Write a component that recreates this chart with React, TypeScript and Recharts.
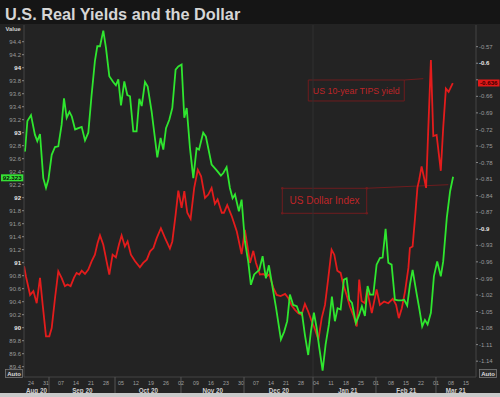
import React from 'react';
import { LineChart, Line, XAxis, YAxis, ReferenceLine, ReferenceArea, ReferenceDot } from 'recharts';

// x values are business-day offsets from Mon 24 Aug 2020
const dollarX = [-2.3, -2.0, -1.2, 0, 1.3, 2.1, 3.0, 4.1, 5.0, 5.8, 6.9, 8.0, 9.1, 10.2, 11.0, 11.9, 12.8, 13.6, 14.7, 15.8, 16.9, 18.0, 19.1, 20.2, 21.3, 22.1, 23.0, 24.1, 25.0, 26.1, 27.4, 28.3, 29.1, 30.0, 31.1, 32.1, 33.0, 34.1, 35.2, 36.1, 36.9, 38.0, 38.9, 40.2, 41.3, 42.1, 43.2, 44.1, 45.0, 46.1, 47.1, 48.2, 49.1, 50.2, 51.1, 51.9, 53.0, 54.1, 55.2, 56.0, 57.4, 58.3, 60.2, 61.9, 63.3, 64.1, 65.2, 66.3, 67.2, 68.0, 69.3, 70.2, 71.3, 72.4, 73.3, 74.4, 76.1, 77.2, 78.3, 79.3, 80.2, 81.7, 83.3, 84.4, 85.4, 86.3, 87.4, 88.6, 89.4, 90.3, 91.3, 92.4, 93.3, 94.3, 95.2, 96.1, 97.2, 98.2, 99.3, 100.3, 101.3, 102.2, 103.2, 104.3, 105.2, 106.1, 107.0, 108.3, 109.4, 110.3, 111.3, 112.2, 113.0, 114.1, 115.2, 116.3, 117.2, 118.2, 119.1, 120.2, 121.3, 122.4, 123.6, 124.4, 125.4, 126.3, 127.2, 128.6, 129.4, 130.4, 131.3, 132.2, 133.3, 134.3, 135.4, 136.6, 137.4, 138.6, 139.7, 140.7];
const dollarValues = [92.76, 92.71, 93.18, 93.27, 92.97, 92.87, 92.98, 92.30, 92.15, 92.28, 92.66, 92.78, 92.79, 93.12, 93.53, 93.23, 93.32, 93.25, 93.05, 93.07, 93.09, 92.88, 93.00, 93.58, 94.10, 94.33, 94.33, 94.57, 94.30, 93.87, 93.78, 93.73, 93.82, 93.42, 93.79, 93.58, 93.56, 93.02, 93.02, 93.52, 93.41, 93.78, 93.71, 93.33, 92.92, 92.62, 92.92, 92.74, 93.07, 93.20, 93.38, 93.97, 94.02, 94.05, 93.23, 93.38, 92.76, 92.30, 92.76, 92.74, 93.00, 92.94, 92.51, 92.42, 92.34, 92.38, 92.47, 92.15, 91.99, 92.05, 91.79, 91.97, 91.33, 91.02, 90.66, 90.82, 90.89, 91.10, 90.76, 90.96, 90.71, 90.30, 89.82, 89.94, 90.10, 90.51, 90.35, 90.33, 90.23, 90.23, 89.89, 89.58, 89.94, 90.23, 90.00, 89.69, 89.34, 89.74, 90.05, 90.48, 90.10, 90.30, 90.28, 90.74, 90.76, 90.43, 90.38, 90.07, 90.20, 90.33, 90.18, 90.64, 90.51, 90.51, 90.97, 91.07, 91.08, 91.52, 91.00, 90.97, 90.43, 90.42, 90.42, 90.43, 90.34, 90.66, 90.89, 90.51, 90.30, 90.02, 90.12, 90.05, 90.23, 90.79, 91.02, 90.79, 91.02, 91.69, 92.10, 92.323];

const tipsX = [-2.3, -1.7, -0.3, 0.8, 1.9, 3.0, 3.9, 5.0, 6.1, 6.9, 8.0, 9.1, 10.2, 11.3, 12.2, 13.2, 14.3, 15.2, 16.1, 16.9, 18.0, 19.1, 20.2, 21.3, 22.2, 23.0, 24.1, 25.2, 26.1, 27.2, 28.3, 29.3, 30.2, 31.3, 32.2, 33.3, 34.7, 36.3, 37.4, 38.6, 39.7, 40.8, 41.9, 43.3, 44.7, 46.3, 47.1, 48.2, 49.1, 50.2, 51.1, 52.1, 53.2, 54.4, 55.6, 56.7, 58.0, 59.1, 60.2, 61.3, 62.2, 63.6, 64.3, 65.4, 66.9, 68.6, 70.2, 71.3, 73.0, 74.1, 75.0, 76.3, 77.4, 78.6, 79.4, 80.8, 81.9, 83.2, 84.7, 85.8, 86.9, 88.0, 89.1, 90.2, 91.3, 92.4, 93.6, 94.7, 95.8, 96.9, 98.0, 99.1, 100.2, 101.1, 102.1, 103.2, 104.1, 105.2, 106.3, 107.4, 108.6, 109.4, 110.2, 111.3, 112.0, 113.6, 115.2, 116.3, 117.7, 119.1, 120.6, 121.7, 122.6, 123.6, 124.7, 125.8, 126.3, 127.2, 128.0, 128.8, 129.4, 130.2, 131.0, 131.7, 132.4, 133.3, 134.1, 135.2, 136.6, 137.4, 138.3, 139.2, 140.6];
const tipsValues = [-0.968, -0.986, -1.020, -1.013, -1.035, -0.989, -1.038, -1.095, -1.095, -1.080, -1.026, -0.977, -0.989, -1.004, -1.001, -1.004, -0.989, -0.980, -0.983, -0.976, -0.982, -0.974, -0.959, -0.947, -0.926, -0.912, -0.929, -0.959, -0.983, -0.947, -0.952, -0.929, -0.912, -0.932, -0.923, -0.947, -0.959, -0.970, -0.962, -0.956, -0.941, -0.935, -0.917, -0.899, -0.917, -0.936, -0.923, -0.875, -0.831, -0.862, -0.832, -0.871, -0.882, -0.826, -0.793, -0.805, -0.844, -0.838, -0.826, -0.855, -0.847, -0.871, -0.871, -0.857, -0.877, -0.905, -0.946, -0.902, -0.962, -0.940, -0.962, -0.983, -0.982, -0.986, -0.983, -1.007, -1.020, -1.022, -1.018, -1.026, -1.039, -1.047, -1.053, -1.056, -1.036, -1.050, -1.068, -1.083, -1.101, -1.062, -1.038, -0.989, -0.938, -0.947, -0.976, -0.980, -1.001, -1.020, -1.041, -1.056, -1.077, -0.992, -1.031, -1.035, -1.010, -1.053, -1.010, -1.038, -1.032, -1.035, -1.027, -1.038, -1.062, -1.044, -1.013, -0.971, -0.935, -0.932, -0.881, -0.826, -0.811, -0.787, -0.807, -0.826, -0.723, -0.594, -0.732, -0.730, -0.795, -0.717, -0.646, -0.652, -0.636];

const dayTicks = [0, 5, 10, 15, 20, 25, 30, 35, 40, 45, 50, 55, 60, 65, 70, 75, 80, 85, 90, 95, 100, 105, 110, 115, 120, 125, 130, 135, 140, 145];
const dayTickLabels = ['24', '31', '07', '14', '21', '28', '05', '12', '19', '26', '02', '09', '16', '23', '30', '07', '14', '21', '28', '04', '11', '18', '25', '01', '08', '15', '22', '01', '08', '15'];
const monthLabels = ['Aug 20', 'Sep 20', 'Oct 20', 'Nov 20', 'Dec 20', 'Jan 21', 'Feb 21', 'Mar 21'];
const monthCenters = [1.8, 17.1, 39.1, 60.6, 82.6, 105.6, 125.1, 141.6];
const monthBounds = [6.01, 28.01, 49.99, 71.01, 94.01, 114.99, 134.99];
const leftTicks = [89.4, 89.6, 89.8, 90, 90.2, 90.4, 90.6, 90.8, 91, 91.2, 91.4, 91.6, 91.8, 92, 92.2, 92.4, 92.6, 92.8, 93, 93.2, 93.4, 93.6, 93.8, 94, 94.2, 94.4];
const rightTicks = [-1.14, -1.11, -1.08, -1.05, -1.02, -0.99, -0.96, -0.93, -0.9, -0.87, -0.84, -0.81, -0.78, -0.75, -0.72, -0.69, -0.66, -0.63, -0.6, -0.57];
const hiddenRightTick = -0.63; // covered by the last-value box in the reference
const lastDollar = 92.323;
const lastTips = -0.636;
const yearBreak = 94;

const dollarData = dollarX.map((x, i) => ({ x, v: dollarValues[i] }));
const tipsData = tipsX.map((x, i) => ({ x, v: tipsValues[i] }));
const allXTicks = [...dayTicks, ...monthCenters, ...monthBounds].sort((a, b) => a - b);

const FONT = '"Liberation Sans", Arial, sans-serif';
const GREEN = '#2fe62f';
const RED = '#e31c1c';
const ANN = '#bf2528';
const ANN_BOX = '#6e1c1e';

const LeftTick = (props: any) => {
  const { x, y, payload } = props;
  const v = payload.value;
  const major = Math.abs(v - Math.round(v)) < 1e-6;
  return (
    <text x={x} y={y} dy={2.1} textAnchor="end" fontSize={6} fontFamily={FONT}
      fontWeight={major ? 'bold' : 'normal'} fill={major ? '#e8e8e8' : '#9a9a9a'}>
      {major ? String(Math.round(v)) : v.toFixed(1)}
    </text>
  );
};

const RightTick = (props: any) => {
  const { x, y, payload } = props;
  const v = payload.value;
  if (Math.abs(v - hiddenRightTick) < 1e-6) return <g />;
  const major = Math.abs(v * 10 - Math.round(v * 10)) < 1e-6;
  return (
    <text x={x} y={y} dy={2.1} textAnchor="start" fontSize={6} fontFamily={FONT}
      fontWeight={major ? 'bold' : 'normal'} fill={major ? '#e8e8e8' : '#9a9a9a'}>
      {String(Number(v.toFixed(2)))}
    </text>
  );
};

const XTick = (props: any) => {
  const { x, y, payload } = props;
  const v = payload.value;
  const di = dayTicks.indexOf(v);
  if (di >= 0) {
    return (
      <text x={x} y={y + 8.3} textAnchor="middle" fontSize={5.3} fontFamily={FONT} fill="#a0a0a0">
        {dayTickLabels[di]}
      </text>
    );
  }
  const mi = monthCenters.indexOf(v);
  if (mi >= 0) {
    return (
      <text x={x} y={y + 15.6} textAnchor="middle" fontSize={6.3} fontWeight="bold" fontFamily={FONT} fill="#d0d0d0">
        {monthLabels[mi]}
      </text>
    );
  }
  const bi = monthBounds.indexOf(v);
  if (bi >= 0) {
    return <line x1={x} x2={x} y1={y} y2={y + 16} stroke="#555" strokeWidth={1} />;
  }
  return <g />;
};

const ValueBox = (props: any) => {
  const { viewBox, side, text, bg, fg } = props;
  if (!viewBox) return null;
  const { x, y, width } = viewBox;
  const bx = side === 'left' ? x - 23 : x + width + 2;
  const top = side === 'left' ? y - 2.4 : y - 3.6;
  return (
    <g>
      <rect x={bx} y={top} width={side === 'left' ? 22.5 : 21.5} height={7} fill={bg} />
      <text x={bx + (side === 'left' ? 11.2 : 10.8)} y={top + 5.8} textAnchor="middle" fontSize={6.2}
        fontWeight="bold" fontFamily={FONT} fill={fg}>{text}</text>
    </g>
  );
};

export default function App() {
  return (
    <div style={{ position: 'absolute', left: 0, top: 0, width: 500, height: 397, background: '#232323', overflow: 'hidden' }}>
      <svg width={500} height={397} style={{ position: 'absolute', left: 0, top: 0 }}>
        <rect x={0} y={0} width={500} height={24} fill="#151515" />
        <text x={5} y={20} fontSize={16.3} fontWeight="bold" fontFamily={FONT} fill="#d6d6d6">
          U.S. Real Yields and the Dollar
        </text>
        <text x={5.5} y={31} fontSize={5.8} fontWeight="bold" fontFamily={FONT} fill="#cfcfcf">Value</text>
        <rect x={5.5} y={369.5} width={17} height={8} fill="#2c2c2c" stroke="#7a7a7a" strokeWidth={0.8} />
        <text x={14} y={376} textAnchor="middle" fontSize={6} fontWeight="bold" fontFamily={FONT} fill="#dcdcdc">Auto</text>
        <rect x={479.5} y={369.5} width={17} height={8} fill="#2c2c2c" stroke="#7a7a7a" strokeWidth={0.8} />
        <text x={488} y={376} textAnchor="middle" fontSize={6} fontWeight="bold" fontFamily={FONT} fill="#dcdcdc">Auto</text>
        <rect x={0} y={393} width={500} height={4} fill="#c9c9c9" />
      </svg>
      <div style={{ position: 'absolute', left: 0, top: 0 }}>
        <LineChart width={500} height={397} margin={{ top: 25, right: 0, bottom: 0, left: 0 }}>
          <XAxis dataKey="x" type="number" domain={[-2.333, 148.333]} allowDataOverflow
            ticks={allXTicks} interval={0} tick={<XTick />} tickLine={false} tickSize={0} tickMargin={0}
            height={20} axisLine={{ stroke: '#444' }} />
          <YAxis yAxisId="left" orientation="left" type="number" domain={[89.2415, 94.657]} allowDataOverflow
            ticks={leftTicks} interval={0} width={24} tick={<LeftTick />} tickSize={2} tickMargin={1}
            tickLine={{ stroke: '#888' }} axisLine={{ stroke: '#444' }} />
          <YAxis yAxisId="right" orientation="right" type="number" domain={[-1.1687, -0.5307]} allowDataOverflow
            ticks={rightTicks} interval={0} width={24} tick={<RightTick />} tickSize={2} tickMargin={1}
            tickLine={{ stroke: '#888' }} axisLine={{ stroke: '#444' }} />
          <ReferenceLine yAxisId="left" x={yearBreak} stroke="#303030" strokeWidth={1} />
          <ReferenceArea yAxisId="right" x1={92.43} x2={124.43} y1={-0.6304} y2={-0.6684}
            fill="none" stroke={ANN_BOX} strokeWidth={1}
            label={{ value: 'US 10-year TIPS yield', position: 'center', fill: ANN, fontSize: 8.8, fontFamily: FONT }} />
          <ReferenceLine yAxisId="right" segment={[{ x: 124.43, y: -0.6304 }, { x: 130.77, y: -0.628 }]}
            stroke={ANN_BOX} strokeWidth={1} />
          <ReferenceArea yAxisId="left" x1={83.77} x2={111.9} y1={92.145} y2={91.76}
            fill="none" stroke={ANN_BOX} strokeWidth={1}
            label={{ value: 'US Dollar Index', position: 'center', fill: ANN, fontSize: 10, fontFamily: FONT }} />
          <ReferenceLine yAxisId="left" segment={[{ x: 111.9, y: 92.145 }, { x: 139.1, y: 92.2 }]}
            stroke={ANN_BOX} strokeWidth={1} />
          <ReferenceDot yAxisId="left" x={83.77} y={92.145} r={1.3} fill={ANN_BOX} stroke="none" />
          <ReferenceDot yAxisId="left" x={111.9} y={92.145} r={1.3} fill={ANN_BOX} stroke="none" />
          <ReferenceDot yAxisId="left" x={83.77} y={91.76} r={1.3} fill={ANN_BOX} stroke="none" />
          <ReferenceDot yAxisId="left" x={111.9} y={91.76} r={1.3} fill={ANN_BOX} stroke="none" />
          <Line yAxisId="right" data={tipsData} dataKey="v" type="linear" stroke={RED} strokeWidth={1.8}
            dot={false} isAnimationActive={false} />
          <Line yAxisId="left" data={dollarData} dataKey="v" type="linear" stroke={GREEN} strokeWidth={1.8}
            dot={false} isAnimationActive={false} />
          <ReferenceLine yAxisId="left" y={lastDollar} stroke="none" strokeOpacity={0}
            label={(p: any) => <ValueBox {...p} side="left" text={lastDollar.toFixed(3)} bg="#35e035" fg="#0a0a0a" />} />
          <ReferenceLine yAxisId="right" y={lastTips} stroke="none" strokeOpacity={0}
            label={(p: any) => <ValueBox {...p} side="right" text={lastTips.toFixed(3)} bg="#e01818" fg="#3a0000" />} />
        </LineChart>
      </div>
    </div>
  );
}
